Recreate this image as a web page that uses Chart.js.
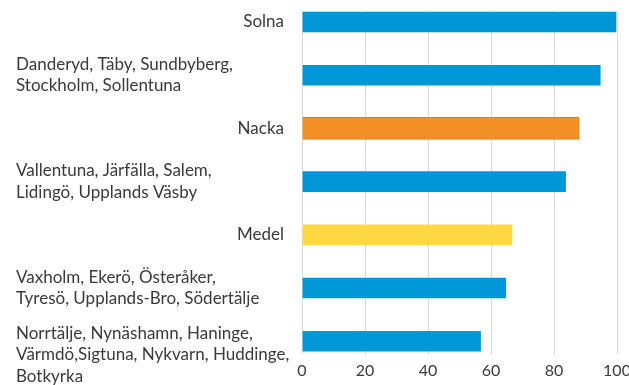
<!DOCTYPE html>
<html>
<head>
<meta charset="utf-8">
<script src="https://cdn.jsdelivr.net/npm/chart.js@4"></script>
<style>
    html, body { margin: 0; padding: 0; background: #fff; }
    #wrap { width: 629px; height: 385px; position: relative; }
</style>
</head>
<body>
<div id="wrap"><canvas id="chart-kommuner"></canvas></div>
<script>
const kommunGrupper = [
    ["Solna"],
    ["Danderyd, Täby, Sundbyberg,", "Stockholm, Sollentuna"],
    ["Nacka"],
    ["Vallentuna, Järfälla, Salem,", "Lidingö, Upplands Väsby"],
    ["Medel"],
    ["Vaxholm, Ekerö, Österåker,", "Tyresö, Upplands-Bro, Södertälje"],
    ["Norrtälje, Nynäshamn, Haninge,", "Värmdö,Sigtuna, Nykvarn, Huddinge,", "Botkyrka"],
];
const index = [100, 95, 88, 84, 67, 65, 57];
const xTicks = [0, 20, 40, 60, 80, 100];

const COLORS = {
    blue: "#0097d8",
    orange: "#f39026",
    orangeBorder: "#e27a1d",
    yellow: "#fed941",
    grid: "#d9d9d9",
    text: "#3a3a3a",
};

const FONT = "Lato, 'Open Sans', sans-serif";
const FONT_SIZE = 17;
const LINE_HEIGHT = 21.5;

const barColor = (label) => {
    if (label[0] === "Nacka") return COLORS.orange;
    if (label[0] === "Medel") return COLORS.yellow;
    return COLORS.blue;
};
const borderColor = (label) =>
    label[0] === "Nacka" ? COLORS.orangeBorder : "rgba(0,0,0,0)";

// category labels: single names right-aligned against the plot, groups left-aligned
const categoryLabels = {
    id: "categoryLabels",
    afterDraw(chart) {
        const { ctx, scales } = chart;
        const yScale = scales.y;
        ctx.save();
        ctx.font = `${FONT_SIZE}px ${FONT}`;
        ctx.fillStyle = COLORS.text;
        ctx.textBaseline = "middle";
        kommunGrupper.forEach((lines, i) => {
            const center = yScale.getPixelForValue(i);
            const top =
                center - ((Math.min(lines.length, 2) - 1) * LINE_HEIGHT) / 2 +
                (lines.length > 2 ? 3 : 0);
            if (lines.length === 1) {
                ctx.textAlign = "right";
                ctx.fillText(lines[0], 284, center);
            } else {
                ctx.textAlign = "left";
                lines.forEach((line, j) => {
                    ctx.fillText(line, 16, top + j * LINE_HEIGHT);
                });
            }
        });
        ctx.restore();
    },
};

Chart.defaults.font.family = FONT;
Chart.defaults.color = COLORS.text;

const kommunChart = new Chart(document.getElementById("chart-kommuner"), {
    type: "bar",
    data: {
        datasets: [
            {
                data: index.map((v, i) => ({ x: v, y: i })),
                backgroundColor: kommunGrupper.map(barColor),
                borderColor: kommunGrupper.map(borderColor),
                borderWidth: 1,
                barThickness: 22,
            },
        ],
    },
    options: {
        indexAxis: "y",
        responsive: true,
        maintainAspectRatio: false,
        animation: false,
        layout: { padding: { top: 11, right: 12, left: 0, bottom: 0 } },
        plugins: {
            legend: { display: false },
            tooltip: { enabled: false },
        },
        scales: {
            x: {
                type: "linear",
                min: 0,
                max: 100,
                afterBuildTicks(scale) {
                    scale.ticks = xTicks.map((value) => ({ value }));
                },
                afterFit(scale) {
                    scale.height = 31;
                    // let "100" hang into the right margin
                    scale.paddingLeft = 0;
                    scale.paddingRight = 0;
                },
                grid: { color: COLORS.grid, drawTicks: false },
                border: { display: false },
                ticks: {
                    padding: 7,
                    font: { size: 16 },
                    color: COLORS.text,
                },
            },
            y: {
                type: "linear",
                reverse: true,
                offset: false,
                min: -0.207,
                max: 6.24,
                afterFit(scale) {
                    scale.width = 302;
                },
                grid: { display: false, offset: false },
                border: { display: false },
                ticks: { display: false },
            },
        },
    },
    plugins: [categoryLabels],
});
</script>
</body>
</html>
